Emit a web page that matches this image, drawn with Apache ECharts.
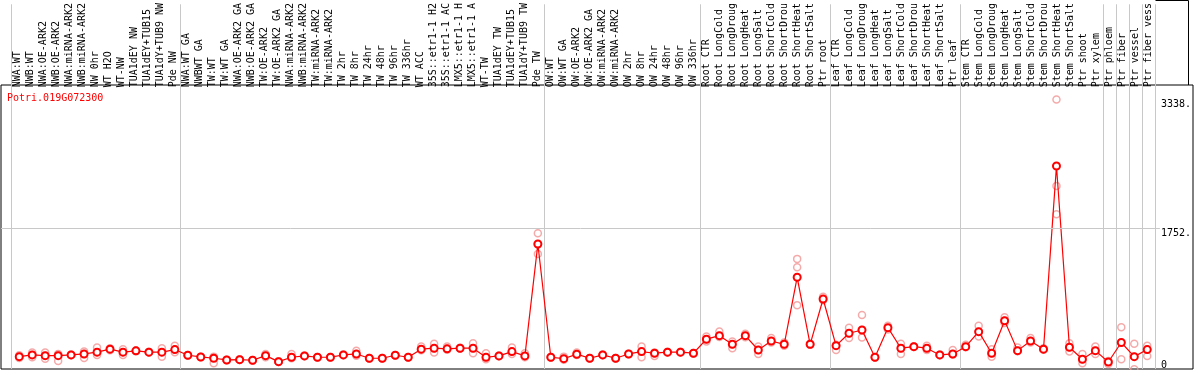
<!DOCTYPE html>
<html><head><meta charset="utf-8">
<script src="https://cdn.jsdelivr.net/npm/echarts@6/dist/echarts.min.js"></script>
<style>html,body{margin:0;padding:0;background:#fff}#c{width:1194px;height:370px}</style>
</head><body><div id="c"></div>
<script>
const chartTitle = 'Potri.019G072300';
const categories = [
  'NWA:WT','NWB:WT','NWA:OE-ARK2','NWB:OE-ARK2','NWA:miRNA-ARK2','NWB:miRNA-ARK2','NW 0hr','WT H2O','WT-NW','TUA1dEY NW','TUA1dEY+TUB15','TUA1dY+TUB9 NW','Pde NW',
  'NWA:WT GA','NWBWT GA','TW:WT','TW:WT GA','NWA:OE-ARK2 GA','NWB:OE-ARK2 GA','TW:OE-ARK2','TW:OE-ARK2 GA','NWA:miRNA-ARK2','NWB:miRNA-ARK2','TW:miRNA-ARK2','TW:miRNA-ARK2','TW 2hr','TW 8hr','TW 24hr','TW 48hr','TW 96hr','TW 336hr','WT ACC','35S::etr1-1 H2','35S::etr1-1 AC','LMX5::etr1-1 H','LMX5::etr1-1 A','WT-TW','TUA1dEY TW','TUA1dEY+TUB15','TUA1dY+TUB9 TW','Pde TW',
  'OW:WT','OW:WT GA','OW:OE-ARK2','OW:OE-ARK2 GA','OW:miRNA-ARK2','OW:miRNA-ARK2','OW 2hr','OW 8hr','OW 24hr','OW 48hr','OW 96hr','OW 336hr',
  'Root CTR','Root LongCold','Root LongDroug','Root LongHeat','Root LongSalt','Root ShortCold','Root ShortDrou','Root ShortHeat','Root ShortSalt','Ptr root',
  'Leaf CTR','Leaf LongCold','Leaf LongDroug','Leaf LongHeat','Leaf LongSalt','Leaf ShortCold','Leaf ShortDrou','Leaf ShortHeat','Leaf ShortSalt','Ptr leaf',
  'Stem CTR','Stem LongCold','Stem LongDroug','Stem LongHeat','Stem LongSalt','Stem ShortCold','Stem ShortDrou','Stem ShortHeat','Stem ShortSalt','Ptr shoot','Ptr xylem',
  'Ptr phloem','Ptr fiber','Ptr vessel','Ptr fiber vess'
];
const meanValues = [
  165,186,177,177,186,198,220,257,220,236,220,220,252,
  182,161,145,124,128,120,177,103,157,174,157,157,186,198,145,145,182,157,257,269,261,269,269,157,174,227,174,1555,
  157,140,195,145,186,145,198,227,207,220,220,207,
  380,424,317,424,247,358,317,1144,317,876,
  300,453,494,157,522,269,288,269,186,198,
  288,473,207,608,239,358,257,2517,281,133,239,
  99,339,165,252
];
const repA = [
  182,215,215,198,186,227,277,269,257,236,220,269,298,
  182,161,83,124,128,120,198,103,198,174,157,157,186,236,145,145,182,157,289,323,289,269,331,207,174,277,207,1687,
  157,165,215,145,186,145,198,289,174,220,220,207,
  351,475,269,446,289,395,339,1371,323,903,
  247,522,679,157,547,323,288,298,186,247,
  310,545,257,651,277,395,269,3338,331,198,289,
  74,528,323,298
];
const repB = [
  149,157,140,111,190,149,186,257,186,240,225,165,220,
  186,165,150,128,132,124,157,107,145,178,161,161,190,177,149,149,186,161,257,215,261,273,207,133,178,198,157,1431,
  161,140,195,149,190,149,202,157,207,224,224,211,
  413,407,351,424,198,358,317,1268,317,861,
  300,395,401,161,522,198,292,247,190,198,
  288,413,165,608,239,358,257,2271,227,83,198,
  99,133,10,174
];
const repC = [
  165,186,177,190,182,198,220,245,220,230,215,220,252,
  178,157,165,120,124,116,177,99,157,170,153,153,182,198,141,141,178,153,245,269,249,265,269,157,170,227,174,1550,
  153,128,185,141,182,141,194,227,215,216,216,203,
  380,424,317,405,247,340,300,799,310,876,
  310,453,494,153,500,269,284,269,182,190,
  280,473,207,580,230,340,250,1921,281,133,239,
  110,339,165,252
];
const groupStarts = [0, 13, 41, 53, 63, 73, 84, 85, 86, 87];
const yTickValues = [0, 1752, 3338];
const yGridValue = 1752;

const pts = arr => arr.map((v, i) => [i, v]);
const chart = echarts.init(document.getElementById('c'), null, {renderer: 'canvas'});
const mono = 'DejaVu Sans Mono';
const repStyle = {color: 'rgba(255,255,255,0)', borderColor: '#f29595', borderWidth: 1.5};
const repSeries = [repA, repB, repC].map(r => ({
  type: 'scatter', xAxisIndex: 0, yAxisIndex: 0, data: pts(r),
  symbol: 'circle', symbolSize: 7, itemStyle: repStyle, silent: true, z: 2
}));
chart.setOption({
  animation: false,
  backgroundColor: '#ffffff',
  title: {text: chartTitle, left: 7, top: 93, padding: 0,
    textStyle: {color: '#ff0000', fontFamily: mono, fontSize: 10, fontWeight: 'normal'}},
  graphic: [
    {type: 'polyline', silent: true, shape: {points: [[1155.5, 0.5], [1188.5, 0.5], [1188.5, 85]]},
      style: {stroke: '#000', lineWidth: 1, fill: null}}
  ],
  grid: [
    {left: 1, right: 31, top: 0, bottom: 0},
    {left: 11.3, right: 38.7, top: 0, bottom: 1},
    {left: 1, right: 1, top: 85, bottom: 1, show: true, borderColor: '#000', borderWidth: 1, backgroundColor: 'transparent'}
  ],
  xAxis: [
    {gridIndex: 0, type: 'value', min: -1.4077, max: 87.977, show: false},
    {gridIndex: 1, type: 'category', data: categories, position: 'top', offset: -85, boundaryGap: true,
      axisLine: {show: false}, axisTick: {show: false},
      axisLabel: {interval: 0, rotate: 90, margin: 2, fontFamily: mono, fontSize: 10, color: '#000'},
      splitLine: {show: true, interval: (idx) => groupStarts.indexOf(idx) >= 0, lineStyle: {color: '#c8c8c8', width: 1}}},
    {gridIndex: 2, type: 'value', show: false}
  ],
  yAxis: [
    {gridIndex: 0, type: 'value', min: 0, max: 4565, position: 'right',
      axisLine: {show: false}, axisTick: {show: false}, splitLine: {show: false},
      axisLabel: {customValues: yTickValues, formatter: v => v === 0 ? '0' : v + '.', margin: 1,
        fontFamily: mono, fontSize: 10, color: '#000', verticalAlign: 'top', verticalAlignMinLabel: 'bottom'}},
    {gridIndex: 1, type: 'value', show: false},
    {gridIndex: 2, type: 'value', show: false}
  ],
  series: [
    ...repSeries,
    {type: 'line', xAxisIndex: 0, yAxisIndex: 0, data: pts(meanValues),
      lineStyle: {color: '#ff0000', width: 1.2},
      symbol: 'emptyCircle', symbolSize: 7,
      itemStyle: {color: '#ff0000', borderWidth: 1.8}, z: 3,
      markLine: {silent: true, symbol: 'none', label: {show: false},
        lineStyle: {color: '#c8c8c8', width: 1, type: 'solid'},
        data: [{yAxis: yGridValue}]}}
  ]
});
</script></body></html>
